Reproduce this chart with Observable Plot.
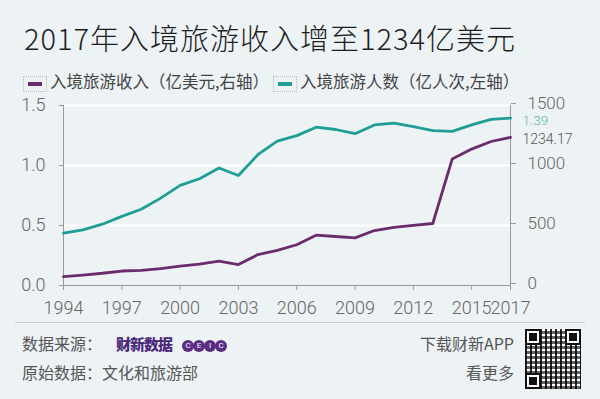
<!DOCTYPE html>
<html><head><meta charset="utf-8">
<script src="https://cdn.jsdelivr.net/npm/d3@7"></script>
<script src="https://cdn.jsdelivr.net/npm/@observablehq/plot@0.6"></script>
<style>
body{margin:0;background:#edf2f5;}
#wrap{position:relative;width:600px;height:399px;overflow:hidden;background:#edf2f5;font-family:"Noto Sans CJK SC","Noto Sans",sans-serif;color:#333;}
.abs{position:absolute;white-space:nowrap;}
.sw{display:inline-block;width:22px;height:14px;border:1px dotted #bbb;position:relative;vertical-align:middle;margin-right:3px;}
.sw i{position:absolute;left:4px;right:4px;top:5px;height:4px;}
.qr{position:absolute;left:525px;top:329px;width:56px;height:60px;background:
 repeating-linear-gradient(90deg,rgba(0,0,0,.85) 0 2px,transparent 2px 5px),
 repeating-linear-gradient(0deg,rgba(0,0,0,.6) 0 3px,transparent 3px 5px),#fff;}
.qr b{position:absolute;width:12px;height:12px;border:2px solid #111;background:#fff;box-shadow:inset 0 0 0 2px #fff, inset 0 0 0 6px #111;}
.ceic{display:inline-block;width:12px;height:12px;border-radius:50%;background:#5b2d82;color:#fff;font-size:8px;line-height:12px;text-align:center;margin-right:-1px;font-family:Roboto;vertical-align:middle;}
</style></head>
<body>
<div id="wrap">
  <div class="abs" id="title" style="left:24px;top:16px;font-size:29px;font-weight:300;color:#1e1e1e;letter-spacing:1px;"></div>
  <div class="abs" id="legend" style="left:23px;top:69px;font-size:16.5px;color:#444;"></div>
  <div class="abs" id="chart" style="left:0;top:90px;"></div>
  <div class="abs" style="left:15px;top:322px;width:570px;height:1px;background:#c8cdd0;"></div>
  <div class="abs" id="src1" style="left:22px;top:331px;font-size:16px;color:#555;"></div>
  <div class="abs" id="src2" style="left:22px;top:360px;font-size:16px;color:#555;"></div>
  <div class="abs" id="r1" style="right:86px;top:331px;font-size:16px;color:#555;"></div>
  <div class="abs" id="r2" style="right:86px;top:360px;font-size:16px;color:#555;"></div>
  <div class="qr"><b style="left:0;top:0"></b><b style="right:0;top:0"></b><b style="left:0;bottom:0"></b></div>
</div>
<script>
const titleText = "2017年入境旅游收入增至1234亿美元";
const seriesNames = ["入境旅游收入（亿美元,右轴）", "入境旅游人数（亿人次,左轴）"];
const seriesColors = ["#6a2c6c", "#1f9e94"];
const years = [1994,1995,1996,1997,1998,1999,2000,2001,2002,2003,2004,2005,2006,2007,2008,2009,2010,2011,2012,2013,2014,2015,2016,2017];
// 入境旅游人数 (亿人次, left axis)
const visitors = [0.437,0.464,0.511,0.576,0.635,0.728,0.834,0.890,0.979,0.917,1.090,1.203,1.249,1.319,1.300,1.265,1.338,1.354,1.324,1.291,1.285,1.338,1.384,1.395];
// 入境旅游收入 (亿美元, right axis)
const revenue = [73.2,87.3,102.0,120.7,126.0,141.0,162.2,177.9,203.9,174.1,257.4,293.0,339.5,419.2,408.4,396.8,458.1,484.6,500.3,516.6,1053.8,1136.5,1200.0,1234.17];
const xTicks = [1994,1997,2000,2003,2006,2009,2012,2015,2017];
const leftTicks = [0,0.5,1.0,1.5];
const rightTicks = [0,500,1000,1500];
const rightMax = 1500, leftMax = 1.5;
const endLabels = ["1.39","1234.17"];
const endLabelColors = ["#5fb5b6","#555"];
const sourceLabel = "数据来源：";
const originLabel = "原始数据：文化和旅游部";
const appLine1 = "下载财新APP", appLine2 = "看更多";

document.getElementById("title").textContent = titleText;
document.getElementById("legend").innerHTML =
  `<span class="sw"><i style="background:${seriesColors[0]}"></i></span>${seriesNames[0]}` +
  `<span class="sw" style="margin-left:4px"><i style="background:${seriesColors[1]}"></i></span>${seriesNames[1]}`;
document.getElementById("src1").innerHTML = sourceLabel +
  `<span style="margin-left:14px;font-weight:900;color:#4b2a7b;font-size:15px;letter-spacing:-1px;">财新数据</span>` +
  `<span style="margin-left:10px;">${["C","E","I","C"].map(c=>`<span class="ceic">${c}</span>`).join("")}</span>`;
document.getElementById("src2").textContent = originLabel;
document.getElementById("r1").textContent = appLine1;
document.getElementById("r2").textContent = appLine2;

const k = leftMax / rightMax;
const visData = years.map((y,i)=>({year:y, v:visitors[i]}));
const revData = years.map((y,i)=>({year:y, v:revenue[i]*k}));
const last = years.length-1;
const labelData = [
  {year:years[last], v:visitors[last], t:endLabels[0], c:endLabelColors[0], dy:3},
  {year:years[last], v:revenue[last]*k, t:endLabels[1], c:endLabelColors[1], dy:2}
];

const chart = Plot.plot({
  width:600, height:230,
  marginLeft:63, marginRight:90, marginTop:15, marginBottom:35,
  style:{background:"transparent", fontFamily:"Roboto, sans-serif", fontSize:"18px", color:"#666", overflow:"visible"},
  x:{domain:[years[0], years[last]]},
  y:{domain:[0, leftMax]},
  marks:[
    Plot.gridY(leftTicks.slice(1), {stroke:"#fff", strokeOpacity:1, strokeWidth:2}),
    Plot.ruleY([0], {stroke:"#999"}),
    Plot.ruleX([years[0], years[last]], {y1:0, y2:leftMax, stroke:"#999"}),
    Plot.axisX({ticks:xTicks, tickFormat:d=>String(d), tickSize:5, tickPadding:11, stroke:"#999", label:null, fontWeight:300}),
    Plot.axisY({anchor:"left", ticks:leftTicks, tickFormat:d=>d.toFixed(1), tickSize:4, tickPadding:14, stroke:"#999", label:null, fontWeight:300}),
    Plot.axisY({anchor:"right", ticks:rightTicks.map(d=>d*k), tickFormat:d=>String(Math.round(d/k)), tickSize:5, tickPadding:12, stroke:"#999", label:null, fontWeight:300, fontSize:17, dy:-2}),
    Plot.line(visData, {x:"year", y:"v", stroke:seriesColors[1], strokeWidth:2.8}),
    Plot.line(revData, {x:"year", y:"v", stroke:seriesColors[0], strokeWidth:2.8}),
    Plot.text(labelData.slice(0,1), {x:"year", y:"v", text:"t", fill:"c", dx:12, dy:3, textAnchor:"start", fontSize:13.5, fontWeight:300}),
    Plot.text(labelData.slice(1), {x:"year", y:"v", text:"t", fill:"c", dx:12, dy:2, textAnchor:"start", fontSize:14, fontWeight:300})
  ]
});
document.getElementById("chart").appendChild(chart);
</script>
</body></html>
